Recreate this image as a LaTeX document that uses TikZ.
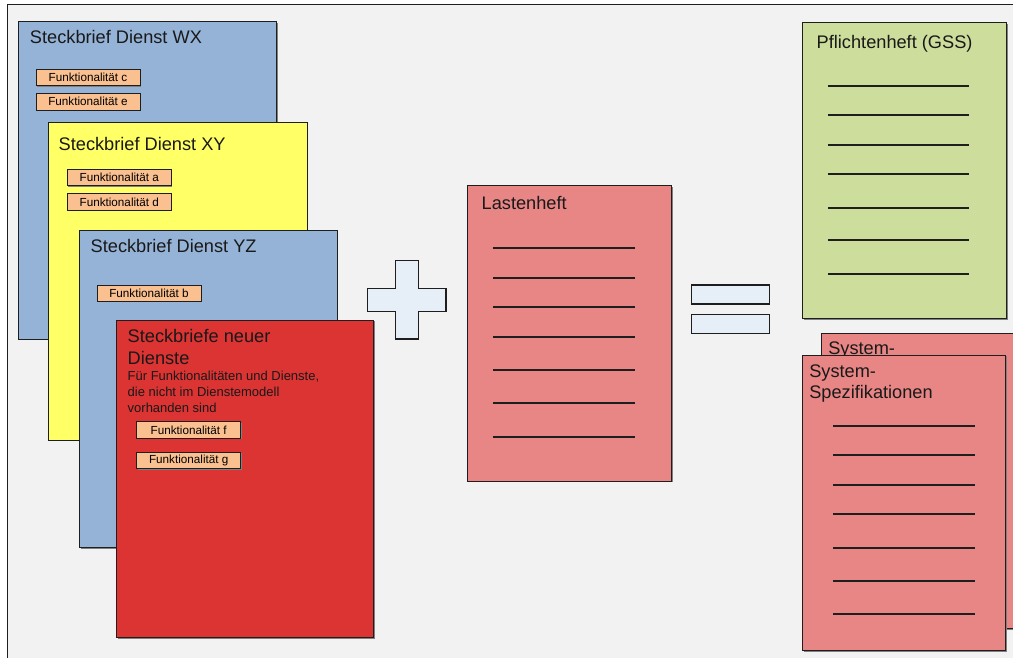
\documentclass[tikz,border=0pt]{standalone}
\usepackage{fontspec}
\setmainfont{Liberation Sans}
\usetikzlibrary{shadows}
\definecolor{bg}{HTML}{F2F2F2}
\definecolor{blueb}{HTML}{95B3D7}
\definecolor{yell}{HTML}{FFFF66}
\definecolor{redb}{HTML}{DC3333}
\definecolor{orng}{HTML}{FAC090}
\definecolor{pinkb}{HTML}{E88585}
\definecolor{grn}{HTML}{CDDD9B}
\definecolor{pale}{HTML}{E6EEF8}
\definecolor{edge}{HTML}{1E1E1E}
\begin{document}
\begin{tikzpicture}[x=1pt,y=-1pt,
  card/.style={draw=edge, line width=0.8pt, anchor=north west, inner sep=0pt, outer sep=0pt,
    drop shadow={shadow xshift=1.3pt, shadow yshift=-1.3pt, fill=black!50, opacity=1}},
  flat/.style={draw=edge, line width=1.1pt, anchor=north west, inner sep=0pt, outer sep=0pt, fill=pale},
  func/.style={draw=edge, line width=0.8pt, fill=orng, anchor=north west, inner sep=0pt, outer sep=0pt,
    minimum width=104pt, minimum height=16.5pt, font=\fontsize{11.7}{14}\selectfont,
    drop shadow={shadow xshift=0.8pt, shadow yshift=-0.8pt, fill=black!50, opacity=1}},
  title/.style={anchor=base west, inner sep=0pt, outer sep=0pt, font=\fontsize{18.2}{21.7}\selectfont, text=black!90},
  small/.style={anchor=base west, inner sep=0pt, outer sep=0pt, font=\fontsize{13}{16}\selectfont, text=black!90},
  sym/.style={draw=edge, line width=1.1pt, fill=pale},
  docline/.style={draw=edge, line width=2pt}]
\useasboundingbox (0,0) rectangle (1013,657);
\clip (0,0) rectangle (1013,657);
\fill[white] (0,0) rectangle (1013,657);
\fill[bg] (7.3,4) rectangle (1100,700);
\draw[edge, line width=0.9pt] (7.3,700) -- (7.3,4) -- (1100,4);

% WX
\node[card, fill=blueb, minimum width=258.4pt, minimum height=317.7pt] (wx) at (18.3,21.3) {};
\node[title] (wxt) at (30,43.3) {Steckbrief Dienst WX};
\node[func] (fc) at (36,69.3) {Funktionalität c};
\node[func] (fe) at (36,93.5) {Funktionalität e};

% XY
\node[card, fill=yell, minimum width=259pt, minimum height=317.7pt] (xy) at (48,122.3) {};
\node[title] (xyt) at (58.7,150.3) {Steckbrief Dienst XY};
\node[func] (fa) at (67.3,169.3) {Funktionalität a};
\node[func] (fd) at (67.3,193.7) {Funktionalität d};

% YZ
\node[card, fill=blueb, minimum width=257.7pt, minimum height=317.7pt] (yz) at (79.3,230) {};
\node[title] (yzt) at (90.7,252.3) {Steckbrief Dienst YZ};
\node[func] (fb) at (97,285) {Funktionalität b};

% new services
\node[card, fill=redb, minimum width=257.5pt, minimum height=317.3pt] (nd) at (116.3,320) {};
\node[title] (ndt1) at (127.7,342.3) {Steckbriefe neuer};
\node[title] (ndt2) at (127.7,364) {Dienste};
\node[small] (nds1) at (127.7,380.3) {Für Funktionalitäten und Dienste,};
\node[small] (nds2) at (127.7,396.3) {die nicht im Dienstemodell};
\node[small] (nds3) at (127.7,412.3) {vorhanden sind};
\node[func] (ff) at (136.7,421.7) {Funktionalität f};
\node[func] (fg) at (136.7,452.3) {Funktionalität g};

% plus
\draw[sym] (395.7,260.7) -- (418.3,260.7) -- (418.3,288.3) -- (446,288.3) -- (446,311.3)
  -- (418.3,311.3) -- (418.3,339) -- (395.7,339) -- (395.7,311.3) -- (367.7,311.3)
  -- (367.7,288.3) -- (395.7,288.3) -- cycle;

% Lastenheft
\node[card, fill=pinkb, minimum width=203.6pt, minimum height=295.7pt] (lh) at (467.7,185.3) {};
\node[title] (lht) at (481.7,209) {Lastenheft};
\foreach \yy in {248,278,307,337,370,403,437}
  \draw[docline] (493,\yy) -- (635,\yy);

% equals
\node[flat, minimum width=78pt, minimum height=19pt] (eq1) at (691.3,285) {};
\node[flat, minimum width=78pt, minimum height=19pt] (eq2) at (691.3,314.3) {};

% Pflichtenheft
\node[card, fill=grn, minimum width=204pt, minimum height=296pt] (ph) at (802.3,22.7) {};
\node[title] (pht) at (816.7,48.7) {Pflichtenheft (GSS)};
\foreach \yy in {86,115,145,174,208,240,274}
  \draw[docline] (828,\yy) -- (969.3,\yy);

% System-Spezifikationen (back)
\node[card, fill=pinkb, minimum width=250pt, minimum height=295.7pt] (sb) at (821,333) {};
\node[title] (sbt) at (828.3,354) {System-};

% System-Spezifikationen (front)
\node[card, fill=pinkb, minimum width=203.4pt, minimum height=295.7pt] (sf) at (802.3,355) {};
\node[title] (sft1) at (809.3,377.3) {System-};
\node[title] (sft2) at (809.3,398.7) {Spezifikationen};
\foreach \yy in {426,455,485,514,548,581,614}
  \draw[docline] (833.3,\yy) -- (974.7,\yy);
\end{tikzpicture}
\end{document}
